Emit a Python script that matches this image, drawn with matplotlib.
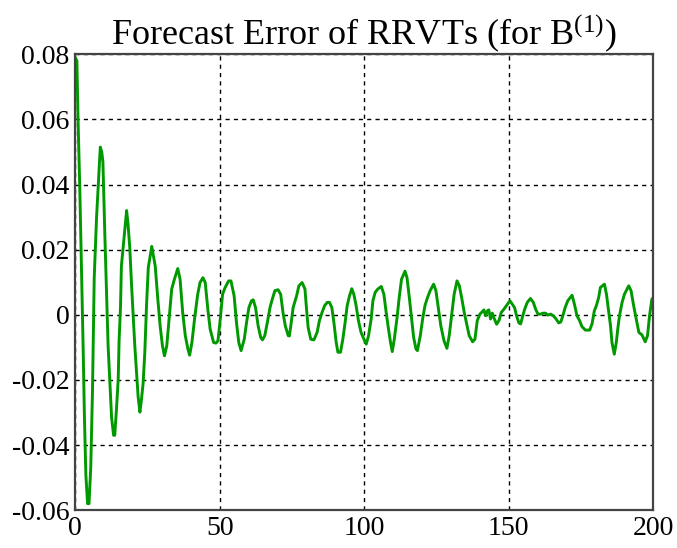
import matplotlib
matplotlib.use('Agg')
import matplotlib.pyplot as plt
from matplotlib.ticker import FixedLocator, FuncFormatter

plt.rcParams['font.family'] = ['Liberation Serif', 'DejaVu Serif']
plt.rcParams['mathtext.fontset'] = 'custom'
plt.rcParams['mathtext.rm'] = 'Liberation Serif'
plt.rcParams['mathtext.it'] = 'Liberation Serif:italic'

# vertices (step, error)
steps = [0.0, 0.6, 1.0, 1.6, 2.2, 2.8, 3.2, 3.7, 4.3, 4.8, 5.4, 6.0, 6.6, 7.4, 8.0, 8.7, 9.2, 9.6,
         10.3, 10.8, 11.4, 12.0, 12.6, 13.3, 13.7, 14.3, 14.9, 15.2, 15.7, 16.0, 16.6, 17.2, 17.8,
         18.3, 18.9, 19.5, 20.1, 20.6, 21.2, 21.8, 22.4, 22.9, 23.5, 24.1, 24.7, 25.3, 26.5, 27.7,
         28.6, 29.4, 30.2, 30.9, 31.7, 32.5, 33.4, 34.4, 35.5, 36.3, 37.2, 38.1, 39.0, 39.6, 40.4,
         41.3, 42.4, 43.2, 44.2, 45.0, 45.9, 46.7, 47.9, 48.7, 49.4, 50.2, 51.0, 51.9, 53.1, 53.9,
         55.0, 55.8, 56.6, 57.4, 58.5, 59.3, 60.1, 61.0, 61.6, 62.4, 63.3, 64.2, 64.8, 65.6, 66.5,
         67.4, 68.2, 69.1, 70.2, 71.1, 71.9, 72.7, 73.7, 74.1, 74.6, 75.4, 76.6, 77.4, 78.5, 79.5,
         80.0, 80.6, 81.5, 82.6, 83.7, 84.5, 85.4, 86.3, 87.2, 88.0, 88.8, 89.5, 90.3, 90.9, 91.8,
         92.6, 93.4, 94.1, 94.9, 95.7, 96.4, 97.2, 98.0, 98.9, 99.9, 100.7, 101.5, 102.4, 103.0,
         103.8, 104.7, 105.9, 106.8, 107.6, 108.4, 109.1, 109.7, 110.4, 111.3, 112.1, 112.9, 114.1,
         114.8, 115.6, 116.4, 117.1, 117.9, 118.4, 119.4, 120.2, 121.0, 121.9, 122.8, 124.0, 124.8,
         125.6, 126.5, 127.6, 128.6, 129.4, 130.2, 131.1, 132.1, 132.9, 133.7, 134.6, 135.6, 136.3,
         137.5, 138.3, 139.1, 140.0, 140.8, 141.4, 142.0, 142.6, 143.1, 143.7, 144.3, 144.8, 145.8,
         146.6, 147.4, 148.3, 149.2, 150.4, 151.2, 152.0, 152.7, 153.5, 154.1, 154.7, 155.5, 156.4,
         157.5, 158.5, 159.3, 160.1, 161.0, 161.9, 162.7, 163.5, 164.5, 165.4, 166.2, 167.3, 168.0,
         168.7, 169.5, 170.4, 171.9, 172.7, 173.6, 174.5, 175.3, 176.5, 178.0, 178.8, 179.6, 180.3,
         181.1, 181.7, 183.1, 183.8, 184.4, 185.2, 185.7, 186.5, 187.2, 187.7, 188.3, 189.2, 190.0,
         191.5, 192.3, 193.2, 194.2, 195.0, 196.1, 197.2, 198.0, 198.7, 199.5, 200.0]
errors = [0.079, 0.078, 0.060, 0.039, 0.014, -0.0115, -0.031, -0.049, -0.058, -0.058, -0.0468,
          -0.0233, 0.0114, 0.0298, 0.040, 0.0515, 0.050, 0.047, 0.0237, 0.0089, -0.0095, -0.0202,
          -0.0315, -0.037, -0.037, -0.0289, -0.0197, -0.008, 0.0028, 0.015, 0.0206, 0.0262, 0.032,
          0.0278, 0.0206, 0.0094, -0.0008, -0.009, -0.0172, -0.0253, -0.0299, -0.0263, -0.0212,
          -0.0115, 0.003, 0.0145, 0.021, 0.015, 0.0048, -0.0034, -0.0095, -0.0126, -0.0095, -0.0013,
          0.0079, 0.0111, 0.0142, 0.0109, 0.0007, -0.0064, -0.0105, -0.0124, -0.0085, -0.0013,
          0.0063, 0.0099, 0.0114, 0.0099, 0.0017, -0.0044, -0.0085, -0.0087, -0.008, -0.0013,
          0.0063, 0.0084, 0.0104, 0.0104, 0.0058, -0.0023, -0.0085, -0.011, -0.0075, -0.0023,
          0.0022, 0.0043, 0.0046, 0.0022, -0.0034, -0.007, -0.0077, -0.0064, -0.0023, 0.0022,
          0.0048, 0.0074, 0.0077, 0.0063, 0.0007, -0.0034, -0.0064, -0.0065, -0.0034, 0.0022,
          0.0058, 0.0089, 0.0099, 0.0079, 0.0022, -0.0039, -0.0075, -0.0077, -0.0054, -0.0018,
          0.0007, 0.0028, 0.0038, 0.0038, 0.0022, -0.0023, -0.0085, -0.0115, -0.0115, -0.0075,
          -0.0023, 0.0028, 0.0058, 0.008, 0.0063, 0.0028, -0.0018, -0.0054, -0.0075, -0.009,
          -0.0064, -0.0013, 0.0043, 0.0069, 0.0079, 0.0087, 0.0063, 0.0007, -0.0044, -0.0085,
          -0.0113, -0.0075, -0.0013, 0.0053, 0.0109, 0.0134, 0.0114, 0.0053, -0.0013, -0.007,
          -0.0105, -0.011, -0.0064, -0.0013, 0.0028, 0.0053, 0.0074, 0.0094, 0.0074, 0.0022,
          -0.0034, -0.008, -0.0103, -0.0064, -0.0003, 0.0063, 0.0104, 0.0089, 0.0053, 0.0007,
          -0.0034, -0.0064, -0.0083, -0.0075, -0.0018, 0.0002, 0.0009, 0.0015, -0.0003, 0.0012,
          0.0015, -0.0013, 0.0005, -0.0008, -0.0029, -0.0018, 0.0007, 0.0017, 0.0028, 0.0043,
          0.0033, 0.0022, -0.0003, -0.0025, -0.0028, -0.0008, 0.0017, 0.0038, 0.005, 0.0038,
          0.0017, 0.0002, 0.0002, 0.0005, 0.0005, -0.0001, 0.0002, -0.0003, -0.0011, -0.0025,
          -0.0022, -0.0003, 0.0022, 0.0043, 0.006, 0.0033, -0.0003, -0.0018, -0.0036, -0.0047,
          -0.0047, -0.0028, 0.0012, 0.0028, 0.0053, 0.0084, 0.0094, 0.0063, 0.0022, -0.0034,
          -0.0085, -0.0121, -0.0085, -0.0044, -0.0003, 0.0038, 0.0063, 0.0089, 0.0074, 0.0028,
          -0.0018, -0.0054, -0.0062, -0.0083, -0.0064, -0.0003, 0.0048, 0.0053]

xticks = [0, 50, 100, 150, 200]
yticks = [-0.06, -0.04, -0.02, 0, 0.02, 0.04, 0.06, 0.08]
title = r'Forecast Error of RRVTs (for B$^{(1)}$)'

fig = plt.figure(figsize=(6.77, 5.48), dpi=100)
ax = fig.add_axes([0.111, 0.069, 0.854, 0.832])

ax.plot(steps, errors, color='#009900', linewidth=2.1)

ax.set_xlim(0, 200)
ax.set_ylim(-0.06, 0.08)
ax.xaxis.set_major_locator(FixedLocator(xticks))
ax.yaxis.set_major_locator(FixedLocator(yticks))
ax.yaxis.set_major_formatter(FuncFormatter(lambda v, p: '0' if abs(v) < 1e-9 else ('%.2f' % v)))
ax.tick_params(length=0, labelsize=20, pad=4)
ax.grid(True, color='black', linestyle=(0, (3, 3)), linewidth=1.0)
for s in ax.spines.values():
    s.set_color('#444444')
    s.set_linewidth(1.6)

ax.set_title(title, fontsize=26, pad=3)

fig.savefig('out.png', dpi=100)
